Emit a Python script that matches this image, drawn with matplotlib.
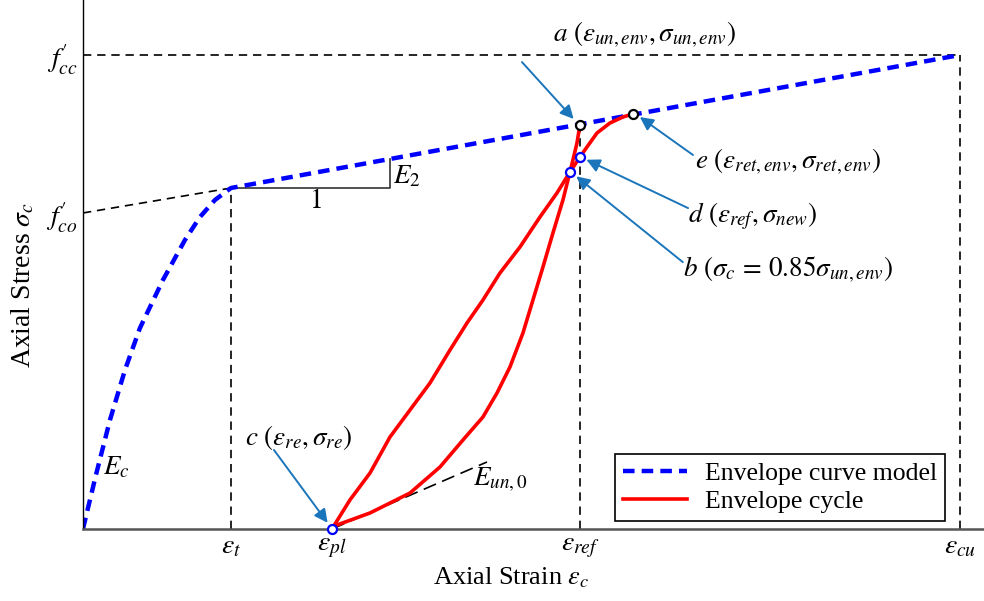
import matplotlib.pyplot as plt

plt.rcParams['font.family'] = ['Liberation Serif', 'DejaVu Serif']
plt.rcParams['mathtext.fontset'] = 'stix'

# strain / stress normalised by eps_cu and f'cc
eps_t, eps_pl, eps_ref, eps_cu = 0.1688, 0.2839, 0.5667, 1.0
f_cc, f_co = 1.0, 0.6667

# envelope model: nonlinear rise, then linear hardening branch
env_x = [0.0, 0.0148, 0.0308, 0.0479, 0.0650, 0.0912, 0.1163, 0.1334, 0.1505, 0.1688, 1.0]
env_y = [0.0, 0.1139, 0.2300, 0.3354, 0.4241, 0.5253, 0.6097, 0.6582, 0.6941, 0.7194, 1.0]

# unloading from a down to eps_pl
unl_x = [0.5667, 0.5633, 0.5587, 0.5553, 0.5473, 0.5359, 0.5245, 0.5131, 0.5017,
         0.4869, 0.4721, 0.4561, 0.4333, 0.4071, 0.3729, 0.3273, 0.2896, 0.2839]
unl_y = [0.8523, 0.8143, 0.7785, 0.7532, 0.6941, 0.6245, 0.5527, 0.4831, 0.4135,
         0.3418, 0.2869, 0.2363, 0.1878, 0.1308, 0.0759, 0.0338, 0.0084, 0.0]

# reloading from c back onto the envelope at e
rel_x = [0.2839, 0.3044, 0.3273, 0.3501, 0.3729, 0.3957, 0.4185, 0.4379, 0.4561, 0.4755,
         0.4983, 0.5211, 0.5405, 0.5553, 0.5667, 0.5747, 0.5861, 0.6009, 0.6157, 0.6271]
rel_y = [0.0, 0.0612, 0.1181, 0.1941, 0.2511, 0.3080, 0.3776, 0.4346, 0.4831, 0.5401,
         0.5949, 0.6582, 0.7089, 0.7532, 0.7848, 0.8059, 0.8354, 0.8565, 0.8692, 0.8755]

pt_a = (0.5667, 0.8523)
pt_b = (0.5553, 0.7532)
pt_c = (0.2839, 0.0)
pt_d = (0.5667, 0.7848)
pt_e = (0.6271, 0.8755)

eun0_x = [0.2839, 0.4607]
eun0_y = [0.0, 0.1414]

tri_x = [0.1688, 0.3501, 0.3501]
tri_y = [0.7194, 0.7194, 0.7806]

fig = plt.figure(figsize=(9.84, 6.01), dpi=100)
ax = fig.add_axes([0.0843, 0.1198, 0.9157, 0.8802])
ax.set_xlim(0, 1.0274)
ax.set_ylim(0, 1.116)

kd = dict(color='black', lw=1.2, ls=(0, (5, 3.5)))
ax.plot([0, eps_cu], [f_cc, f_cc], **kd)
ax.plot([eps_cu, eps_cu], [0, f_cc], **kd)
ax.plot([eps_t, eps_t], [0, env_y[9]], **kd)
ax.plot([eps_ref, eps_ref], [0, pt_a[1]], **kd)
ax.plot([0, eps_t], [f_co, env_y[9]], **kd)
ax.plot(eun0_x, eun0_y, color='black', lw=1.2, ls=(0, (8, 4)))
ax.plot(tri_x, tri_y, color='#333333', lw=1.2)

ax.plot(env_x, env_y, color='#0000ff', lw=3.2, ls=(0, (2.6, 1.6)), label='Envelope curve model')
ax.plot(unl_x, unl_y, color='#ff0000', lw=2.6, solid_joinstyle='round', label='Envelope cycle')
ax.plot(rel_x, rel_y, color='#ff0000', lw=2.6, solid_joinstyle='round')

for p in (pt_a, pt_e):
    ax.plot(*p, 'o', ms=6.5, mfc='white', mec='black', mew=1.6, zorder=5)
for p in (pt_b, pt_c, pt_d):
    ax.plot(*p, 'o', ms=6.5, mfc='white', mec='#0000ff', mew=1.6, zorder=5, clip_on=False)

arrow = dict(arrowstyle='-|>', color='#1b75bb', lw=1.4, mutation_scale=20,
             shrinkA=0, shrinkB=0)
fs = 19.5
ax.annotate('', xy=(0.5595, 0.8650), xytext=(0.5006, 0.985), arrowprops=arrow)
ax.text(0.536, 1.042, r'$a\ (\varepsilon_{un,env},\sigma_{un,env})$', fontsize=fs, va='center')
ax.annotate('', xy=(0.6350, 0.8690), xytext=(0.6956, 0.789), arrowprops=arrow)
ax.text(0.698, 0.774, r'$e\ (\varepsilon_{ret,env},\sigma_{ret,env})$', fontsize=fs, va='center')
ax.annotate('', xy=(0.5740, 0.7790), xytext=(0.690, 0.677), arrowprops=arrow)
ax.text(0.690, 0.660, r'$d\ (\varepsilon_{ref},\sigma_{new})$', fontsize=fs, va='center')
ax.annotate('', xy=(0.5625, 0.7440), xytext=(0.684, 0.563), arrowprops=arrow)
ax.text(0.684, 0.546, r'$b\ (\sigma_c\,=\,0.85\sigma_{un,env})$', fontsize=fs, va='center')
ax.annotate('', xy=(0.2790, 0.0130), xytext=(0.2178, 0.1667), arrowprops=arrow)
ax.text(0.1847, 0.194, r'$c\ (\varepsilon_{re},\sigma_{re})$', fontsize=fs, va='center')

ax.text(0.2645, 0.690, r'$1$', fontsize=fs, ha='center', va='center')
ax.text(0.3535, 0.7426, r'$E_2$', fontsize=fs, va='center')
ax.text(0.0228, 0.129, r'$E_c$', fontsize=fs, va='center')
ax.text(0.4447, 0.1034, r'$E_{un,0}$', fontsize=fs, va='center')

ax.set_xticks([eps_t, eps_pl, eps_ref, eps_cu])
ax.set_xticklabels([r'$\varepsilon_t$', r'$\varepsilon_{pl}$', r'$\varepsilon_{ref}$', r'$\varepsilon_{cu}$'])
ax.set_yticks([f_co, f_cc])
ax.set_yticklabels([r'$f_{co}^{\prime}$', r'$f_{cc}^{\prime}$'])
ax.tick_params(length=0, labelsize=20, pad=4)

ax.set_xlabel(r'Axial Strain $\varepsilon_c$', fontsize=19)
ax.xaxis.set_label_coords(0.475, -0.068)
ax.set_ylabel(r'Axial Stress $\sigma_c$', fontsize=20)
ax.yaxis.set_label_coords(-0.052, 0.461)

for s in ('top', 'right'):
    ax.spines[s].set_visible(False)
ax.spines['left'].set_linewidth(1.0)
ax.spines['bottom'].set_color('#555555')
ax.spines['bottom'].set_linewidth(1.8)

leg = ax.legend(loc='lower right', bbox_to_anchor=(0.957, 0.015), borderaxespad=0,
                fontsize=18.5, fancybox=False, edgecolor='black', framealpha=1,
                handlelength=2.5, borderpad=0.3, labelspacing=0.22, handletextpad=0.7)
leg.get_frame().set_linewidth(1.2)

fig.savefig('out.png', dpi=100)
